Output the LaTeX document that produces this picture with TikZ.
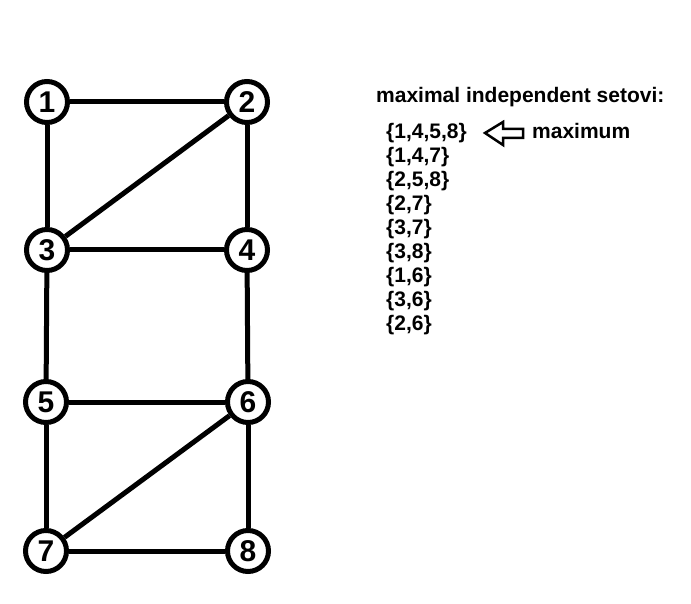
\documentclass[tikz,border=0pt]{standalone}
\usepackage{fontspec}
\setmainfont{Liberation Sans}
\begin{document}
\begin{tikzpicture}[x=1pt,y=-1pt,
  vert/.style={circle,draw=black,line width=5pt,fill=white,minimum size=41pt,inner sep=0pt,font=\fontsize{30}{31}\selectfont\bfseries},
  edge/.style={line width=5pt,black},
  txt/.style={anchor=base west,inner sep=0pt,font=\fontsize{21}{24}\selectfont\bfseries}]
\useasboundingbox (0,0) rectangle (691,604);
\node[vert] (n1) at (47,102) {1};
\node[vert] (n2) at (247,102) {2};
\node[vert] (n3) at (47,250) {3};
\node[vert] (n4) at (247,250) {4};
\node[vert] (n5) at (46,402) {5};
\node[vert] (n6) at (248,402) {6};
\node[vert] (n7) at (46,551) {7};
\node[vert] (n8) at (248,551) {8};
\draw[edge] (n1) -- (n2);
\draw[edge] (n1) -- (n3);
\draw[edge] (n2) -- (n3);
\draw[edge] (n2) -- (n4);
\draw[edge] (n3) -- (n4);
\draw[edge] (n3) -- (n5);
\draw[edge] (n4) -- (n6);
\draw[edge] (n5) -- (n6);
\draw[edge] (n5) -- (n7);
\draw[edge] (n6) -- (n7);
\draw[edge] (n6) -- (n8);
\draw[edge] (n7) -- (n8);
\node[txt] (hdr) at (376,103) {maximal independent setovi:};
\node[txt] (s1) at (386,139) {\{1,4,5,8\}};
\node[txt] (s2) at (386,162.9) {\{1,4,7\}};
\node[txt] (s3) at (386,186.8) {\{2,5,8\}};
\node[txt] (s4) at (386,210.7) {\{2,7\}};
\node[txt] (s5) at (386,234.6) {\{3,7\}};
\node[txt] (s6) at (386,258.5) {\{3,8\}};
\node[txt] (s7) at (386,282.4) {\{1,6\}};
\node[txt] (s8) at (386,306.3) {\{3,6\}};
\node[txt] (s9) at (386,330.2) {\{2,6\}};
\draw[line width=2.5pt,line join=miter] (485,133) -- (503,122) -- (503,129) -- (523,129) -- (523,138) -- (503,138) -- (503,145) -- cycle;
\node[txt] (mx) at (532,139) {maximum};
\end{tikzpicture}
\end{document}
